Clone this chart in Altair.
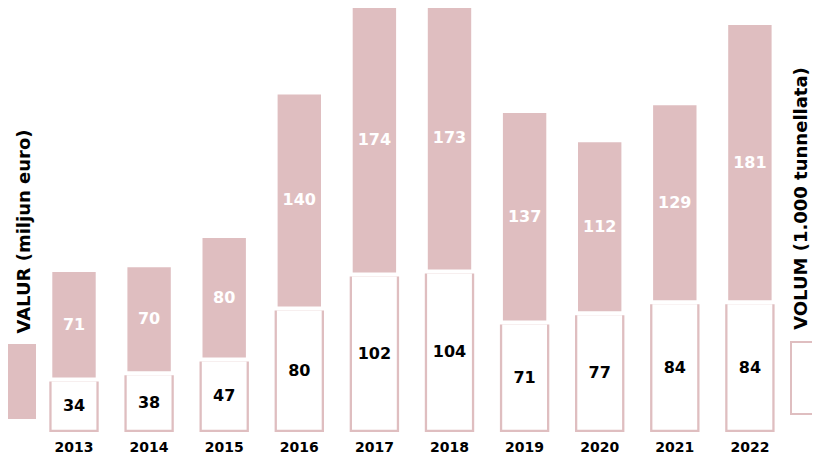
import altair as alt
import pandas as pd

years = ["2013", "2014", "2015", "2016", "2017", "2018", "2019", "2020", "2021", "2022"]
valur = [71, 70, 80, 140, 174, 173, 137, 112, 129, 181]
volum = [34, 38, 47, 80, 102, 104, 71, 77, 84, 84]

legend_left = "VALUR (miljun euro)"
legend_right = "VOLUM (1.000 tunnellata)"

PINK = "#dfbec0"
FONT = "DejaVu Sans"

df = pd.DataFrame({"year": years, "valur": valur, "volum": volum})
df["top"] = df["valur"] + df["volum"]
df["mid_val"] = df["volum"] + df["valur"] / 2
df["mid_vol"] = df["volum"] / 2

xscale = alt.Scale(range=[28.45, 779.45], paddingInner=0.3768, paddingOuter=0.1884)
yscale = alt.Scale(domain=[0, 276], range=[426, 0])

X = alt.X("year:N", scale=xscale, axis=None, sort=years)

base = alt.Chart(df)

outer = base.mark_bar(width=49.4, color=PINK, y2Offset=-2).encode(
    x=X, y=alt.Y("volum:Q", scale=yscale, axis=None), y2=alt.datum(0)
)
inner = base.mark_bar(width=44.8, color="white", y2Offset=-4.3).encode(
    x=X, y=alt.Y("volum:Q", scale=yscale, axis=None), y2=alt.datum(0)
)
valbar = base.mark_bar(width=43.4, color=PINK, y2Offset=-4).encode(
    x=X, y=alt.Y("top:Q", scale=yscale, axis=None), y2="volum:Q"
)
val_txt = base.mark_text(font=FONT, fontWeight="bold", fontSize=16, color="white",
                         dy=-2, baseline="middle").encode(
    x=X, y=alt.Y("mid_val:Q", scale=yscale, axis=None), text="valur:Q"
)
vol_txt = base.mark_text(font=FONT, fontWeight="bold", fontSize=16, color="black",
                         dy=-1.5, baseline="middle").encode(
    x=X, y=alt.Y("mid_vol:Q", scale=yscale, axis=None), text="volum:Q"
)
year_txt = base.mark_text(font=FONT, fontWeight="bold", fontSize=14, color="black",
                          baseline="middle").encode(
    x=X, y=alt.value(440), text="year:N"
)

leg_df = pd.DataFrame({"left": [legend_left], "right": [legend_right]})
leg = alt.Chart(leg_df)
left_rect = leg.mark_rect(color=PINK).encode(
    x=alt.value(0), x2=alt.value(28), y=alt.value(336), y2=alt.value(411)
)
right_rect = leg.mark_rect(fill="white", stroke=PINK, strokeWidth=2).encode(
    x=alt.value(783), x2=alt.value(840), y=alt.value(334), y2=alt.value(406)
)
left_txt = leg.mark_text(font=FONT, fontWeight="bold", fontSize=18, angle=270,
                         align="center", baseline="middle", color="black").encode(
    x=alt.value(17), y=alt.value(223.5), text="left:N"
)
right_txt = leg.mark_text(font=FONT, fontWeight="bold", fontSize=18, angle=270,
                          align="center", baseline="middle", color="black").encode(
    x=alt.value(794), y=alt.value(190.5), text="right:N"
)

chart = alt.layer(
    outer, inner, valbar, val_txt, vol_txt, year_txt,
    left_rect, right_rect, left_txt, right_txt
).properties(
    width=804, height=447, padding=0, autosize="none"
).configure_view(stroke=None)

chart.save("out.html", embed_options={"renderer": "svg", "actions": False})
